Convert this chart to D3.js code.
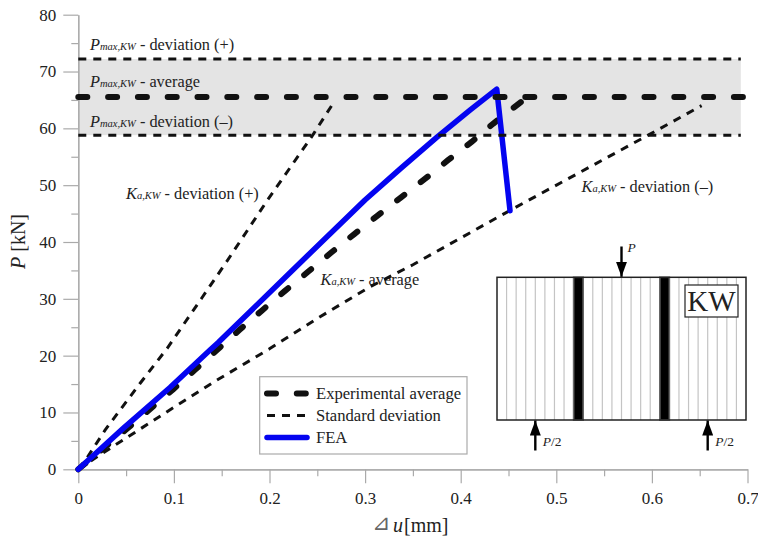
<!DOCTYPE html>
<html>
<head>
<meta charset="utf-8">
<script src="https://cdn.jsdelivr.net/npm/d3@7"></script>
<style>
  html, body { margin: 0; padding: 0; background: #fff; }
  svg { display: block; }
  text { font-family: "Liberation Serif", serif; fill: #222; }
  .axis path, .axis line { stroke: #aaa; stroke-width: 1.2; }
  .axis text { font-family: "Liberation Serif", serif; font-size: 17px; fill: #222; }
</style>
</head>
<body>
<script>
// values
var xTicks = [0, 0.1, 0.2, 0.3, 0.4, 0.5, 0.6, 0.7];
var xMinorTicks = [0.05, 0.15, 0.25, 0.35, 0.45, 0.55, 0.65];
var yTicks = [0, 10, 20, 30, 40, 50, 60, 70, 80];
var yMinorTicks = [5, 15, 25, 35, 45, 55, 65, 75];

var pMaxAverage = 65.5;
var pMaxUpper = 72.2;
var pMaxLower = 58.8;
var bandEndX = 0.693;
var averageEndX = 0.698;

var experimental = [[0, 0], [0.05, 7], [0.0994, 14.1], [0.122, 17.5], [0.169, 24.6], [0.1925, 28], [0.2162, 31.4], [0.2406, 34.8], [0.2643, 38.1], [0.2887, 41.4], [0.3127, 44.6], [0.338, 47.9], [0.3625, 51.1], [0.3867, 54.4], [0.4114, 57.6], [0.4338, 60.8], [0.465, 64.9]];
var deviationPlus = [[0, 0], [0.0095, 2.1], [0.028, 6.9], [0.0645, 15.1], [0.093, 21.3], [0.129, 30.1], [0.155, 36.5], [0.198, 47.4], [0.244, 58.5], [0.2677, 64.7]];
var deviationMinus = [[0, 0], [0.026, 2.9], [0.0925, 10.1], [0.145, 15.7], [0.2, 21.2], [0.2525, 26.8], [0.305, 32.1], [0.35, 36], [0.452, 45.6], [0.595, 58.7], [0.652, 64]];
var fea = [[0, 0], [0.047, 7.2], [0.0959, 14.4], [0.1378, 21], [0.1464, 22.3], [0.2214, 34.6], [0.2999, 47.4], [0.3376, 53], [0.3749, 58.4], [0.4097, 63.2], [0.4377, 66.9], [0.4516, 45.5]];

var legendLabels = ["Experimental average", "Standard deviation", "FEA"];

// specimen sketch, in lamina widths
var laminaCount = 26;
var laminaLines = [1, 2, 3, 4, 5, 6, 7, 10, 11, 12, 13, 14, 15, 16, 19, 20, 21, 22, 23, 24, 25];
var blackLaminae = [8, 17];
var supports = [4, 22];
var loadAt = 13;

var svgWidth = 758;
var svgHeight = 537;

var svg = d3.select("body").append("svg")
  .attr("width", svgWidth)
  .attr("height", svgHeight);

var defs = svg.append("defs");
defs.append("marker")
  .attr("id", "head")
  .attr("viewBox", "0 0 15 11")
  .attr("refX", 15).attr("refY", 5.5)
  .attr("markerUnits", "userSpaceOnUse")
  .attr("markerWidth", 15).attr("markerHeight", 11)
  .attr("orient", "auto")
  .append("path").attr("d", "M0,0L15,5.5L0,11Z").attr("fill", "#000");

var xScale = d3.scaleLinear().domain([0, 0.7]).range([78.3, 747.5]);
var yScale = d3.scaleLinear().domain([0, 80]).range([469.3, 14.7]);

var line = d3.line().x(d => xScale(d[0])).y(d => yScale(d[1]));

// shaded band between the deviations
svg.append("rect")
  .attr("x", xScale(0))
  .attr("y", yScale(pMaxUpper))
  .attr("width", xScale(bandEndX) - xScale(0))
  .attr("height", yScale(pMaxLower) - yScale(pMaxUpper))
  .attr("fill", "#e4e4e4");

// axes
svg.append("g").attr("class", "axis")
  .attr("transform", `translate(0, ${yScale(0)})`)
  .call(d3.axisBottom(xScale).tickValues(xMinorTicks).tickSize(7).tickFormat("").tickSizeOuter(0));
svg.append("g").attr("class", "axis")
  .attr("transform", `translate(0, ${yScale(0)})`)
  .call(d3.axisBottom(xScale).tickValues(xTicks).tickSize(14).tickSizeOuter(0).tickPadding(9).tickFormat(d => d));
svg.append("g").attr("class", "axis")
  .attr("transform", `translate(${xScale(0)}, 0)`)
  .call(d3.axisLeft(yScale).tickValues(yMinorTicks).tickSize(7).tickFormat("").tickSizeOuter(0));
svg.append("g").attr("class", "axis")
  .attr("transform", `translate(${xScale(0)}, 0)`)
  .call(d3.axisLeft(yScale).tickValues(yTicks).tickSize(15).tickSizeOuter(0).tickPadding(7).tickFormat(d => d));

// axis titles
var yTitle = svg.append("text")
  .attr("transform", "translate(25, 241.5) rotate(-90)")
  .attr("text-anchor", "middle")
  .attr("font-size", "20px");
yTitle.append("tspan").attr("font-style", "italic").text("P");
yTitle.append("tspan").text(" [kN]");

// triangle, u and [mm] are separate so the gaps can follow the reference
svg.append("text")
  .attr("x", 372).attr("y", 530)
  .attr("font-size", "22px")
  .style("fill", "#666")
  .text("⊿");
svg.append("text")
  .attr("x", 393).attr("y", 532)
  .attr("font-size", "20px").attr("font-style", "italic")
  .text("u");
svg.append("text")
  .attr("x", 404).attr("y", 532)
  .attr("font-size", "20px")
  .text("[mm]");

// annotations, main letter + small italic index
function note(x, y, letter, index, rest) {
  var t = svg.append("text").attr("x", x).attr("y", y).attr("font-size", "16.3px");
  t.append("tspan").attr("font-style", "italic").text(letter);
  t.append("tspan").attr("font-style", "italic").attr("font-size", "10.5px").text(index);
  t.append("tspan").text(" - " + rest);
}
note(90, 50, "P", "max,KW", "deviation (+)");
note(90, 87, "P", "max,KW", "average");
note(90, 126.5, "P", "max,KW", "deviation (–)");
note(126, 199, "K", "a,KW", "deviation (+)");
note(581.5, 192, "K", "a,KW", "deviation (–)");
note(320.5, 285, "K", "a,KW", "average");

// curves
function drawExp(sel) {
  return sel.attr("fill", "none").attr("stroke", "#111").attr("stroke-width", 6)
    .attr("stroke-linecap", "round").attr("stroke-dasharray", "9 20.8");
}
function drawStd(sel) {
  return sel.attr("fill", "none").attr("stroke", "#111").attr("stroke-width", 3)
    .attr("stroke-dasharray", "8 7");
}
function drawFea(sel) {
  return sel.attr("fill", "none").attr("stroke", "#0404f0").attr("stroke-width", 5.5)
    .attr("stroke-linecap", "round").attr("stroke-linejoin", "round");
}

drawStd(svg.append("path").attr("d", line(deviationPlus)));
drawStd(svg.append("path").attr("d", line(deviationMinus)));
drawExp(svg.append("path").attr("d", line(experimental)));
drawFea(svg.append("path").attr("d", line(fea)));

drawStd(svg.append("path").attr("d", line([[0, pMaxUpper], [bandEndX, pMaxUpper]])));
drawStd(svg.append("path").attr("d", line([[0, pMaxLower], [bandEndX, pMaxLower]])));
drawExp(svg.append("path").attr("d", line([[0, pMaxAverage], [averageEndX, pMaxAverage]])));

// legend
var legend = svg.append("g");
legend.append("rect")
  .attr("x", 259.7).attr("y", 376.7)
  .attr("width", 207.3).attr("height", 77.3)
  .attr("fill", "#fff").attr("stroke", "#aaa").attr("stroke-width", 1.2);
var legendStyles = [drawExp, drawStd, drawFea];
var legendY = d3.scalePoint().domain(legendLabels).range([393.5, 437.5]);
legendLabels.forEach(function(label, i) {
  legendStyles[i](legend.append("path")
    .attr("d", `M267,${legendY(label)}H307`));
  legend.append("text")
    .attr("x", 316).attr("y", legendY(label) + 5.5)
    .attr("font-size", "16.6px")
    .text(label);
});

// specimen sketch
var sx = d3.scaleLinear().domain([0, laminaCount]).range([497, 746]);
var sketchTop = 277.3;
var sketchBottom = 420;
var sketch = svg.append("g");

sketch.append("rect")
  .attr("x", sx(0)).attr("y", sketchTop)
  .attr("width", sx(laminaCount) - sx(0)).attr("height", sketchBottom - sketchTop)
  .attr("fill", "#fff");
sketch.selectAll(".lamina")
  .data(laminaLines)
  .enter()
  .append("line")
  .attr("class", "lamina")
  .attr("x1", d => sx(d)).attr("x2", d => sx(d))
  .attr("y1", sketchTop).attr("y2", sketchBottom)
  .attr("stroke", "#c4c4c4").attr("stroke-width", 1.2);
sketch.selectAll(".black")
  .data(blackLaminae)
  .enter()
  .append("rect")
  .attr("class", "black")
  .attr("x", d => sx(d)).attr("y", sketchTop)
  .attr("width", sx(1) - sx(0)).attr("height", sketchBottom - sketchTop)
  .attr("fill", "#000").attr("stroke", "#666").attr("stroke-width", 1.6);
sketch.append("rect")
  .attr("x", sx(0)).attr("y", sketchTop)
  .attr("width", sx(laminaCount) - sx(0)).attr("height", sketchBottom - sketchTop)
  .attr("fill", "none").attr("stroke", "#222").attr("stroke-width", 1.5);

// KW tag
sketch.append("rect")
  .attr("x", 685).attr("y", 285).attr("width", 53).attr("height", 32)
  .attr("fill", "#fff").attr("stroke", "#222").attr("stroke-width", 1.2);
sketch.append("text")
  .attr("x", 711.5).attr("y", 311)
  .attr("text-anchor", "middle")
  .attr("font-size", "29px")
  .text("KW");

// load arrows
sketch.append("line")
  .attr("x1", sx(loadAt)).attr("x2", sx(loadAt))
  .attr("y1", 246.5).attr("y2", sketchTop - 0.5)
  .attr("stroke", "#000").attr("stroke-width", 2.4)
  .attr("marker-end", "url(#head)");
sketch.append("text")
  .attr("x", sx(loadAt) + 6).attr("y", 251.5)
  .attr("font-size", "13.5px").attr("font-style", "italic")
  .text("P");

supports.forEach(function(s) {
  sketch.append("line")
    .attr("x1", sx(s)).attr("x2", sx(s))
    .attr("y1", 450.5).attr("y2", sketchBottom + 0.5)
    .attr("stroke", "#000").attr("stroke-width", 2.4)
    .attr("marker-end", "url(#head)");
  var t = sketch.append("text")
    .attr("x", sx(s) + 7.5).attr("y", 445.5)
    .attr("font-size", "13.5px");
  t.append("tspan").attr("font-style", "italic").text("P");
  t.append("tspan").text("/2");
});
</script>
</body>
</html>
